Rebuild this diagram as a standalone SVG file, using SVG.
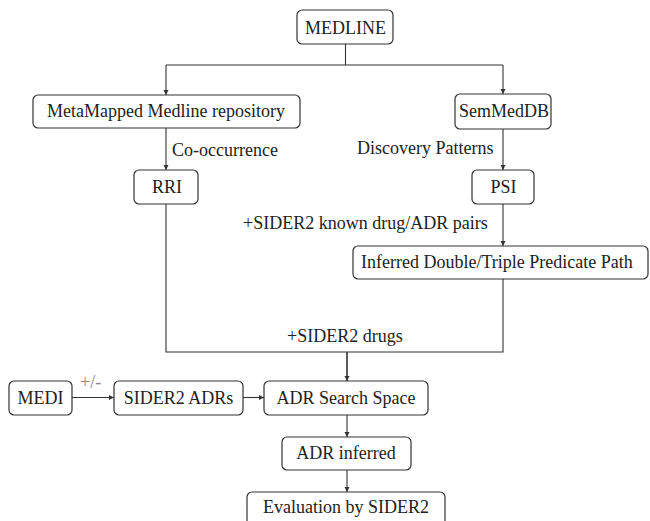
<svg xmlns="http://www.w3.org/2000/svg" width="650" height="521" viewBox="0 0 650 521">
<defs>
<marker id="ar" markerWidth="6" markerHeight="6" refX="5" refY="3" orient="auto" markerUnits="userSpaceOnUse">
<path d="M0,0.5 L5,3 L0,5.5 Z" fill="#333"/>
</marker>
</defs>
<g id="connectors" fill="none" stroke="#333" stroke-width="1.1">
<path d="M345.5,44 V65 M166,65 H503"/>
<path d="M166,65 V95" marker-end="url(#ar)"/>
<path d="M503,65 V94" marker-end="url(#ar)"/>
<path d="M166,128 V170" marker-end="url(#ar)"/>
<path d="M503,129 V170" marker-end="url(#ar)"/>
<path d="M503,204 V246" marker-end="url(#ar)"/>
<path d="M166,204 V352 H503 V279"/>
<path stroke-width="1.6" d="M347,352 V381" marker-end="url(#ar)"/>
<path d="M72,397.5 H114" marker-end="url(#ar)"/>
<path d="M243,397.5 H264" marker-end="url(#ar)"/>
<path d="M347,415 V437" marker-end="url(#ar)"/>
<path d="M347,470 V492" marker-end="url(#ar)"/>
</g>
<g id="edge-labels">
<text font-family="Liberation Serif" font-size="18" fill="#222" x="172" y="156">Co-occurrence</text>
<text font-family="Liberation Serif" font-size="18" fill="#222" x="357" y="154">Discovery Patterns</text>
<text font-family="Liberation Serif" font-size="18" fill="#222" x="243" y="229">+SIDER2 known drug/ADR pairs</text>
<text font-family="Liberation Serif" font-size="18" fill="#222" x="287" y="342">+SIDER2 drugs</text>
<text font-family="Liberation Serif" font-size="18" fill="#888" x="80" y="388">+/-</text>
</g>
<g id="medline"><rect fill="#fff" stroke="#333" stroke-width="1.2" x="297" y="10" width="96" height="34" rx="5"/><text font-family="Liberation Serif" font-size="18" fill="#222" text-anchor="middle" x="345.5" y="34">MEDLINE</text></g>
<g id="metamapped"><rect fill="#fff" stroke="#333" stroke-width="1.2" x="33" y="95" width="267" height="33" rx="5"/><text font-family="Liberation Serif" font-size="18" fill="#222" text-anchor="middle" x="166" y="117">MetaMapped Medline repository</text></g>
<g id="semmeddb"><rect fill="#fff" stroke="#333" stroke-width="1.2" x="455" y="94" width="96" height="35" rx="5"/><text font-family="Liberation Serif" font-size="18" fill="#222" text-anchor="middle" x="504" y="117">SemMedDB</text></g>
<g id="rri"><rect fill="#fff" stroke="#333" stroke-width="1.2" x="134" y="170" width="64" height="34" rx="5"/><text font-family="Liberation Serif" font-size="18" fill="#222" text-anchor="middle" x="167" y="193">RRI</text></g>
<g id="psi"><rect fill="#fff" stroke="#333" stroke-width="1.2" x="472" y="170" width="62" height="34" rx="5"/><text font-family="Liberation Serif" font-size="18" fill="#222" text-anchor="middle" x="503.5" y="193">PSI</text></g>
<g id="inferred"><rect fill="#fff" stroke="#333" stroke-width="1.2" x="353" y="246" width="295" height="33" rx="5"/><text font-family="Liberation Serif" font-size="18" fill="#222" x="361" y="268">Inferred Double/Triple Predicate Path</text></g>
<g id="medi"><rect fill="#fff" stroke="#333" stroke-width="1.2" x="9" y="381" width="63" height="34" rx="5"/><text font-family="Liberation Serif" font-size="18" fill="#222" text-anchor="middle" x="40.5" y="404">MEDI</text></g>
<g id="sider2adrs"><rect fill="#fff" stroke="#333" stroke-width="1.2" x="114" y="381" width="129" height="34" rx="5"/><text font-family="Liberation Serif" font-size="18" fill="#222" text-anchor="middle" x="178.5" y="404">SIDER2 ADRs</text></g>
<g id="adrsearch"><rect fill="#fff" stroke="#333" stroke-width="1.2" x="264" y="381" width="164" height="34" rx="5"/><text font-family="Liberation Serif" font-size="18" fill="#222" text-anchor="middle" x="346" y="404">ADR Search Space</text></g>
<g id="adrinferred"><rect fill="#fff" stroke="#333" stroke-width="1.2" x="282" y="437" width="129" height="33" rx="5"/><text font-family="Liberation Serif" font-size="18" fill="#222" text-anchor="middle" x="346" y="459">ADR inferred</text></g>
<g id="evaluation"><rect fill="#fff" stroke="#333" stroke-width="1.2" x="247" y="492" width="198" height="40" rx="5"/><text font-family="Liberation Serif" font-size="18" fill="#222" text-anchor="middle" x="346" y="513">Evaluation by SIDER2</text></g>
</svg>
